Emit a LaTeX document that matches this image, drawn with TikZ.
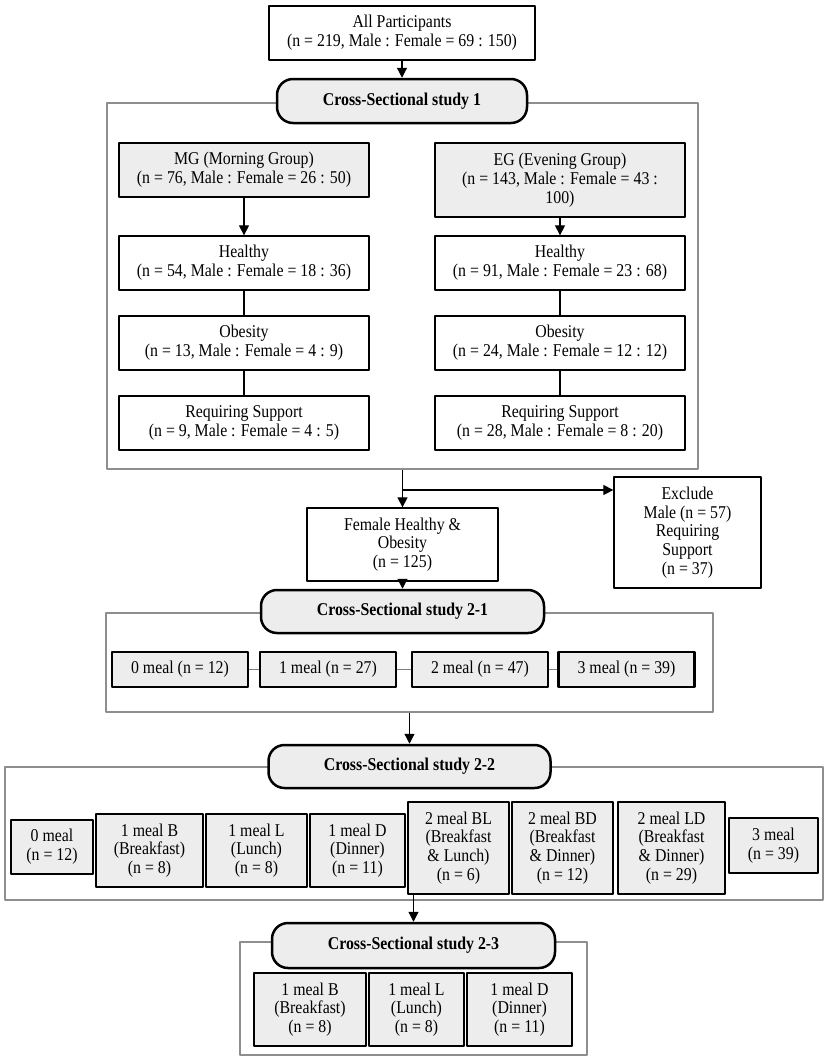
\documentclass[tikz,border=0pt]{standalone}
\usepackage{fontspec}
\setmainfont{Liberation Serif}[FakeStretch=0.88]
\usetikzlibrary{arrows.meta}
\definecolor{boxgray}{HTML}{EDEDED}
\definecolor{framegray}{HTML}{8E8E8E}
\begin{document}
\begin{tikzpicture}[x=1pt, y=-1pt, font=\fontsize{18}{18.8}\selectfont, line join=round, >={Triangle[length=10pt,width=10pt]},
	box/.style={draw, fill=white, line width=1.3pt, inner sep=0pt, align=center},
	groupbox/.style={box, fill=boxgray, line width=2.8pt},
	study/.style={draw, fill=boxgray, line width=2.5pt, rounded corners=16pt, inner sep=0pt, font=\fontsize{18}{18.8}\selectfont\bfseries},
	frame/.style={draw=framegray, line width=2.2pt, inner sep=0pt},
	link/.style={line width=1.2pt},
	mlink/.style={draw=gray, line width=1.5pt}]
		\useasboundingbox (0,0) rectangle (829,1063);
		% grey frames of the studies
		\node[frame, minimum width=591, minimum height=366] (f1) at (402.5,286) {};
		\node[frame, minimum width=607, minimum height=99] (f21) at (409.5,662.5) {};
		\node[frame, minimum width=818, minimum height=133] (f22) at (414,833.5) {};
		\node[frame, minimum width=347, minimum height=113] (f23) at (413.5,998.5) {};
		% study 1
		\node[box, minimum width=266, minimum height=54] (all) at (402,33) {All Participants\\(n = 219, Male : Female = 69 : 150)};
		\node[study, minimum width=250, minimum height=44] (s1) at (402,101) {Cross-Sectional study 1};
		\node[groupbox, minimum width=250, minimum height=54] (mg) at (244,170) {MG (Morning Group)\\(n = 76, Male : Female = 26 : 50)};
		\node[groupbox, minimum width=250, minimum height=74] (eg) at (560,180) {EG (Evening Group)\\(n = 143, Male : Female = 43 :\\100)};
		\node[box, minimum width=250, minimum height=54] (mgh) at (244,263) {Healthy\\(n = 54, Male : Female = 18 : 36)};
		\node[box, minimum width=250, minimum height=54] (mgo) at (244,343) {Obesity\\(n = 13, Male : Female = 4 : 9)};
		\node[box, minimum width=250, minimum height=54] (mgr) at (244,423) {Requiring Support\\(n = 9, Male : Female = 4 : 5)};
		\node[box, minimum width=250, minimum height=54] (egh) at (560,263) {Healthy\\(n = 91, Male : Female = 23 : 68)};
		\node[box, minimum width=250, minimum height=54] (ego) at (560,343) {Obesity\\(n = 24, Male : Female = 12 : 12)};
		\node[box, minimum width=250, minimum height=54] (egr) at (560,423) {Requiring Support\\(n = 28, Male : Female = 8 : 20)};
		\draw[->, link] (all.south) -- (s1.north);
		\draw[->, link] (mg.south) -- (mgh.north);
		\draw[->, link] (eg.south) -- (egh.north);
		\draw[link] (mgh) -- (mgo) (mgo) -- (mgr);
		\draw[link] (egh) -- (ego) (ego) -- (egr);
		% selection
		\node[box, minimum width=191, minimum height=73] (fem) at (402.5,544.5) {Female Healthy \&\\Obesity\\(n = 125)};
		\node[box, minimum width=147, minimum height=111] (ex) at (687.5,532.5) {Exclude\\Male (n = 57)\\Requiring\\Support\\(n = 37)};
		\coordinate (split) at (402.5,490);
		\draw[->, link] (f1.south) -- (fem.north);
		\draw[->, link] (split) -- (split -| ex.west);
		% study 2-1
		\node[study, minimum width=283, minimum height=43] (s21) at (402.5,611.5) {Cross-Sectional study 2-1};
		\draw[->, link] (fem.south) -- (s21.north);
		\foreach \k/\x/\n in {0/180/12,1/328/27,2/480/47,3/626.5/39}
			\node[groupbox, minimum width=136, minimum height=35] (m\k) at (\x,669.5) {\k\ meal (n = \n)};
		\foreach \a/\b in {0/1,1/2,2/3} \draw[mlink] (m\a) -- (m\b);
		% study 2-2
		\node[study, minimum width=282, minimum height=43] (s22) at (409.5,766.5) {Cross-Sectional study 2-2};
		\draw[->, link] (f21.south) -- (s22.north);
		\node[groupbox, minimum width=82, minimum height=54] (zero) at (52,847) {0 meal\\(n = 12)};
		\node[groupbox, minimum width=107, minimum height=73] (b) at (149.5,850.5) {1 meal B\\(Breakfast)\\(n = 8)};
		\node[groupbox, minimum width=101, minimum height=73] (l) at (256.5,850.5) {1 meal L\\(Lunch)\\(n = 8)};
		\node[groupbox, minimum width=95, minimum height=73] (d) at (357.5,850.5) {1 meal D\\(Dinner)\\(n = 11)};
		\node[groupbox, minimum width=101, minimum height=92] (bl) at (458.5,848) {2 meal BL\\(Breakfast\\\& Lunch)\\(n = 6)};
		\node[groupbox, minimum width=101, minimum height=92] (bd) at (562.5,848) {2 meal BD\\(Breakfast\\\& Dinner)\\(n = 12)};
		\node[groupbox, minimum width=107, minimum height=92] (ld) at (671.5,848) {2 meal LD\\(Breakfast\\\& Dinner)\\(n = 29)};
		\node[groupbox, minimum width=89, minimum height=55] (three) at (773.5,845.5) {3 meal\\(n = 39)};
		% study 2-3
		\node[study, minimum width=283, minimum height=45] (s23) at (413.5,945.5) {Cross-Sectional study 2-3};
		\draw[->, link] (s23.north |- bl.south) -- (s23.north);
		\node[groupbox, minimum width=112, minimum height=73] (b3) at (310,1009.5) {1 meal B\\(Breakfast)\\(n = 8)};
		\node[groupbox, minimum width=95, minimum height=73] (l3) at (416.5,1009.5) {1 meal L\\(Lunch)\\(n = 8)};
		\node[groupbox, minimum width=105, minimum height=73] (d3) at (519.5,1009.5) {1 meal D\\(Dinner)\\(n = 11)};
\end{tikzpicture}
\end{document}
